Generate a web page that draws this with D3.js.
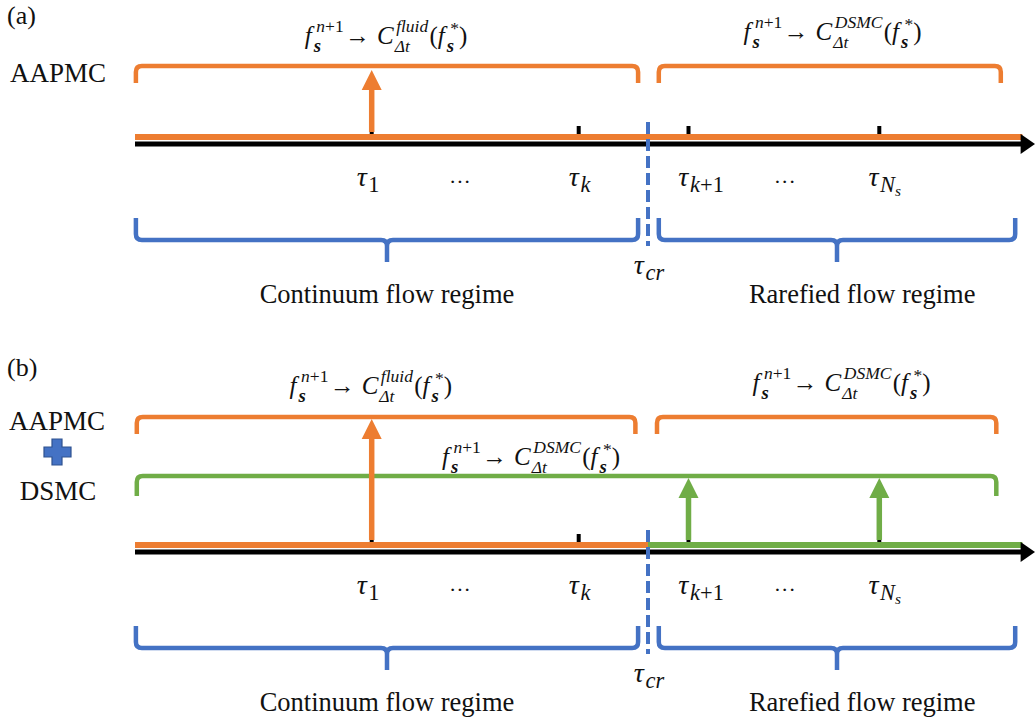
<!DOCTYPE html>
<html>
<head>
<meta charset="utf-8">
<script src="https://cdn.jsdelivr.net/npm/d3@7"></script>
<style>
  body { margin: 0; background: #fff; }
  svg text { font-family: "Liberation Serif", "Times New Roman", Times, "DejaVu Serif", serif; fill: #111; }
</style>
</head>
<body>
<svg id="chart"></svg>
<script>
const W = 1035, H = 724;
const SERIF = "'Liberation Serif', 'Times New Roman', Times, 'DejaVu Serif', serif";

// positions along the time axis, in axis units (0..100)
const tickPos = [26.3, 49.3, 61.5, 82.7];
const tauSubs = ["1", "k", "k+1", "N"];
const tauLabelX = [25.9, 49.4, 62.9, 83.3];
const ellipsisX = [36.1, 72.2];
const critPos = 57.0;
const regimeNames = ["Continuum flow regime", "Rarefied flow regime"];
const regimeFrom = [0.1, 58.2];
const regimeTo = [55.9, 97.8];
const regimeLabelX = [28.0, 80.8];
const opNames = ["fluid", "DSMC"];

// panel (a): one operator per regime; panel (b): adds DSMC over the whole range
const panelNames = ["(a)", "(b)"];
const opFromA = [0.1, 58.2], opToA = [55.9, 96.2], opLabelA = [27.9, 77.5], opYA = [44, 40];
const opFromB = [0.2, 58.0], opToB = [55.6, 95.7], opLabelB = [26.2, 78.5], opYB = [394, 391];
const dsmcSpanB = [0.2, 95.7], dsmcLabelB = 44.0, dsmcYB = 465;
const arrowTicksA = [0];            // orange arrows
const arrowTicksB = [0];            // orange arrows
const greenArrowTicksB = [2, 3];    // green arrows

const orange = "#ED7D31", blue = "#4472C4", green = "#70AD47";

const svg = d3.select("#chart").attr("width", W).attr("height", H)
  .attr("font-family", SERIF);
const x = d3.scaleLinear().domain([0, 100]).range([135, 1035]);

// small math typesetter: tokens laid left to right, "stack" shares x with next token
// a token's text is either a string or a list of [string, italic] runs
function mathLabel(sel, cx, y, tokens, size) {
  const g = sel.append("g");
  let pos = 0, stackStart = null, stackW = 0;
  tokens.forEach(tok => {
    const s = (tok.s || 1) * size;
    const start = stackStart !== null ? stackStart : pos;
    const t = g.append("text")
      .attr("x", start + (tok.dx || 0) * size)
      .attr("y", (tok.dy || 0) * size)
      .attr("font-family", SERIF)
      .style("font-size", s + "px")
      .style("font-style", tok.it ? "italic" : "normal")
      .style("font-weight", tok.b ? "bold" : "normal");
    if (Array.isArray(tok.t)) {
      tok.t.forEach(r => t.append("tspan").style("font-style", r[1] ? "italic" : "normal").text(r[0]));
    } else {
      t.text(tok.t);
    }
    const w = t.node().getComputedTextLength() + (tok.dx || 0) * size + (tok.pad || 0) * size;
    if (tok.stack) {
      stackStart = start; stackW = Math.max(stackW, w);
    } else if (stackStart !== null) {
      pos = stackStart + Math.max(stackW, w); stackStart = null; stackW = 0;
    } else {
      pos += w;
    }
  });
  g.attr("transform", `translate(${cx - pos / 2},${y})`);
  return g;
}

function operator(sel, cx, y, name) {
  mathLabel(sel, cx, y, [
    { t: "f", it: true, pad: 0.08 },
    { t: [["n", true], ["+1", false]], s: 0.7, dy: -0.48, stack: true, dx: 0.1, pad: 0.05 },
    { t: "s", s: 0.75, dy: 0.3, it: true, b: true, pad: 0.28 },
    { t: "→", s: 1.0, dy: 0.0, pad: 0.28 },
    { t: "C", it: true, pad: 0.04 },
    { t: name, s: 0.7, dy: -0.48, it: true, stack: true, dx: 0.06, pad: 0.05 },
    { t: "Δt", s: 0.7, dy: 0.3, it: true, pad: 0.08 },
    { t: "(" },
    { t: "f", it: true, pad: 0.08 },
    { t: "*", s: 0.7, dy: -0.4, stack: true, dx: 0.14 },
    { t: "s", s: 0.75, dy: 0.3, it: true, b: true, pad: 0.05 },
    { t: ")" }
  ], 25);
}

function topBracket(sel, x0, x1, yTop, yEnd, color) {
  const r = 6;
  sel.append("path")
    .attr("d", `M${x0},${yEnd} V${yTop + r} Q${x0},${yTop} ${x0 + r},${yTop} H${x1 - r} Q${x1},${yTop} ${x1},${yTop + r} V${yEnd}`)
    .attr("fill", "none").attr("stroke", color).attr("stroke-width", 4.5);
}

function bottomBrace(sel, x0, x1, yTop, yH, yTip, color) {
  const r = 6, xm = (x0 + x1) / 2;
  sel.append("path")
    .attr("d", `M${x0},${yTop} V${yH - r} Q${x0},${yH} ${x0 + r},${yH} H${xm - r} Q${xm},${yH} ${xm},${yH + r} V${yTip}` +
      ` M${xm},${yH + r} Q${xm},${yH} ${xm + r},${yH} H${x1 - r} Q${x1},${yH} ${x1},${yH - r} V${yTop}`)
    .attr("fill", "none").attr("stroke", color).attr("stroke-width", 4.5);
}

function upArrow(sel, xc, yBase, yTip, color) {
  sel.append("line").attr("x1", xc).attr("x2", xc).attr("y1", yBase).attr("y2", yTip + 18)
    .attr("stroke", color).attr("stroke-width", 5.5);
  sel.append("path")
    .attr("d", `M${xc},${yTip} L${xc + 10},${yTip + 20} L${xc - 10},${yTip + 20} Z`)
    .attr("fill", color);
}

function timeAxis(sel, axisY, splitGreen) {
  if (splitGreen) {
    sel.append("line").attr("x1", x(0)).attr("x2", x(critPos)).attr("y1", axisY - 3).attr("y2", axisY - 3)
      .attr("stroke", orange).attr("stroke-width", 6);
    sel.append("line").attr("x1", x(critPos)).attr("x2", x(98.6)).attr("y1", axisY - 3).attr("y2", axisY - 3)
      .attr("stroke", green).attr("stroke-width", 6);
  } else {
    sel.append("line").attr("x1", x(0)).attr("x2", x(98.6)).attr("y1", axisY - 3).attr("y2", axisY - 3)
      .attr("stroke", orange).attr("stroke-width", 6);
  }
  sel.append("line").attr("x1", x(0)).attr("x2", x(98.6)).attr("y1", axisY + 4).attr("y2", axisY + 4)
    .attr("stroke", "#000").attr("stroke-width", 5);
  sel.append("path")
    .attr("d", `M${x(100)},${axisY + 4} L${x(98.4)},${axisY - 6} L${x(98.4)},${axisY + 14} Z`)
    .attr("fill", "#000");
  sel.selectAll(null).data(tickPos).enter().append("line")
    .attr("x1", d => x(d)).attr("x2", d => x(d))
    .attr("y1", axisY - 14).attr("y2", axisY - 6)
    .attr("stroke", "#000").attr("stroke-width", 4);
}

function lowerPart(sel, axisY) {
  tauSubs.forEach((s, i) => {
    const toks = [{ t: "τ", it: true, pad: 0.06 }];
    if (s === "k+1") {
      toks.push({ t: [["k", true], ["+1", false]], s: 0.8, dy: 0.2 });
    } else {
      toks.push({ t: s, s: 0.8, dy: 0.2, it: s !== "1" });
    }
    if (s === "N") toks.push({ t: "s", s: 0.55, dy: 0.36, it: true });
    mathLabel(sel, x(tauLabelX[i]), axisY + 46, toks, 28);
  });
  ellipsisX.forEach(e => {
    sel.append("text").attr("x", x(e)).attr("y", axisY + 49).attr("text-anchor", "middle")
      .style("font-size", "22px").text("···");
  });
  sel.append("line").attr("x1", x(critPos)).attr("x2", x(critPos))
    .attr("y1", axisY - 18).attr("y2", axisY + 106)
    .attr("stroke", blue).attr("stroke-width", 4).attr("stroke-dasharray", "12,5");
  mathLabel(sel, x(critPos) + 1, axisY + 134, [{ t: "τ", it: true, pad: 0.06 }, { t: "cr", s: 0.8, dy: 0.2, it: true }], 28);
  regimeNames.forEach((n, i) => {
    bottomBrace(sel, x(regimeFrom[i]), x(regimeTo[i]), axisY + 78, axisY + 100, axisY + 122, blue);
    sel.append("text").attr("x", x(regimeLabelX[i])).attr("y", axisY + 163).attr("text-anchor", "middle")
      .style("font-size", "26.5px").text(n);
  });
}

// ---------- panel (a) ----------
const ga = svg.append("g");
const axisA = 140;
ga.append("text").attr("x", 7).attr("y", 24).style("font-size", "26px").text(panelNames[0]);
ga.append("text").attr("x", 10).attr("y", 82).style("font-size", "27px").text("AAPMC");
opNames.forEach((n, i) => {
  topBracket(ga, x(opFromA[i]), x(opToA[i]), 66, 83, orange);
  operator(ga, x(opLabelA[i]), opYA[i], n);
});
timeAxis(ga, axisA, false);
arrowTicksA.forEach(k => upArrow(ga, x(tickPos[k]), axisA - 8, 70, orange));
lowerPart(ga, axisA);

// ---------- panel (b) ----------
const gb = svg.append("g");
const axisB = 548;
gb.append("text").attr("x", 7).attr("y", 376).style("font-size", "26px").text(panelNames[1]);
gb.append("text").attr("x", 57).attr("y", 430).attr("text-anchor", "middle").style("font-size", "27px").text("AAPMC");
gb.append("text").attr("x", 58).attr("y", 500).attr("text-anchor", "middle").style("font-size", "27px").text("DSMC");
gb.append("path")
  .attr("d", "M52,439 h10 v8 h9 v10 h-9 v8 h-10 v-8 h-8 v-10 h8 Z")
  .attr("fill", blue).attr("stroke", "#2F528F").attr("stroke-width", 1.2);
opNames.forEach((n, i) => {
  topBracket(gb, x(opFromB[i]), x(opToB[i]), 417, 434, orange);
  operator(gb, x(opLabelB[i]), opYB[i], n);
});
topBracket(gb, x(dsmcSpanB[0]), x(dsmcSpanB[1]), 476, 496, green);
operator(gb, x(dsmcLabelB), dsmcYB, "DSMC");
timeAxis(gb, axisB, true);
arrowTicksB.forEach(k => upArrow(gb, x(tickPos[k]), axisB - 8, 419, orange));
greenArrowTicksB.forEach(k => upArrow(gb, x(tickPos[k]), axisB - 8, 478, green));
lowerPart(gb, axisB);
</script>
</body>
</html>
